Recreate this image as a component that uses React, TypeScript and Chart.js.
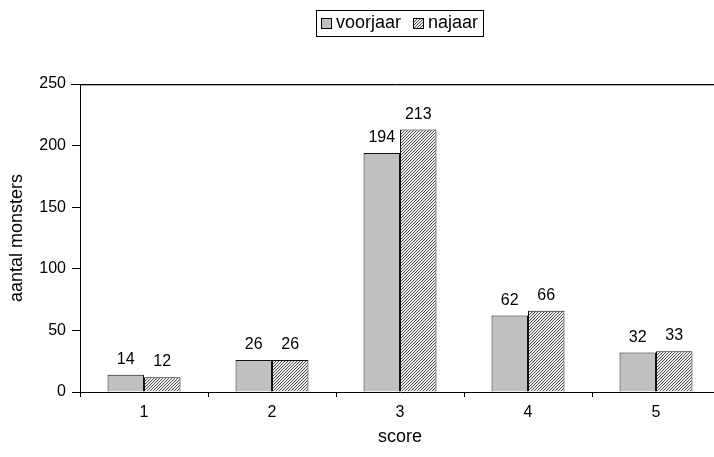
import React, { useEffect, useRef } from "react";
import { Chart, registerables } from "chart.js";

Chart.register(...registerables);

const categories = ["1", "2", "3", "4", "5"];
const seriesNames = ["voorjaar", "najaar"];
const voorjaar = [14, 26, 194, 62, 32];
const najaar = [12, 26, 213, 66, 33];
const yMin = 0;
const yMax = 250;
const yStep = 50;
const xTitle = "score";
const yTitle = "aantal monsters";

const FONT = '"Liberation Sans", Arial, sans-serif';

function makeHatch(): CanvasPattern | string {
  const c = document.createElement("canvas");
  c.width = 3;
  c.height = 3;
  const g = c.getContext("2d");
  if (!g) return "#999";
  const img = g.createImageData(3, 3);
  for (let y = 0; y < 3; y++) {
    for (let x = 0; x < 3; x++) {
      const i = (y * 3 + x) * 4;
      const k = (x + y) % 3;
      const v = k === 0 ? 80 : k === 1 ? 225 : 255;
      img.data[i] = v;
      img.data[i + 1] = v;
      img.data[i + 2] = v;
      img.data[i + 3] = 255;
    }
  }
  g.putImageData(img, 0, 0);
  return g.createPattern(c, "repeat") || "#999";
}

export default function App() {
  const ref = useRef<HTMLCanvasElement | null>(null);

  useEffect(() => {
    const canvas = ref.current;
    if (!canvas) return;
    const hatch = makeHatch();

    const decoPlugin = {
      id: "deco",
      afterDatasetsDraw(chart: any) {
        const ctx = chart.ctx;
        ctx.save();
        ctx.font = `16px ${FONT}`;
        ctx.fillStyle = "#000";
        ctx.textAlign = "center";
        ctx.textBaseline = "alphabetic";
        chart.data.datasets.forEach((ds: any, di: number) => {
          const meta = chart.getDatasetMeta(di);
          meta.data.forEach((bar: any, i: number) => {
            ctx.fillText(String(ds.data[i]), bar.x, bar.y - 11);
          });
        });
        ctx.restore();
      },
      afterDraw(chart: any) {
        const ctx = chart.ctx;
        const a = chart.chartArea;
        ctx.save();
        // plot area top border
        ctx.strokeStyle = "#000";
        ctx.lineWidth = 1;
        ctx.beginPath();
        ctx.moveTo(a.left - 9, a.top + 0.5);
        ctx.lineTo(a.right, a.top + 0.5);
        ctx.stroke();
        ctx.strokeStyle = "#b0b0b0";
        ctx.beginPath();
        ctx.moveTo(a.left + 1, a.top + 1.5);
        ctx.lineTo(a.right, a.top + 1.5);
        ctx.stroke();

        // legend
        ctx.font = `18px ${FONT}`;
        ctx.textBaseline = "middle";
        ctx.textAlign = "left";
        const box = 11;
        const gap = 4;
        const itemGap = 12;
        const pad = 5;
        const ds = chart.data.datasets;
        const widths = ds.map((d: any) => ctx.measureText(d.label).width);
        let total = pad * 2;
        widths.forEach((w: number, i: number) => {
          total += box + gap + w + (i > 0 ? itemGap : 0);
        });
        const cx = 400;
        const left = Math.round(cx - total / 2);
        const top = 10;
        const h = 26;
        ctx.fillStyle = "#fff";
        ctx.fillRect(left, top, total, h);
        ctx.strokeStyle = "#000";
        ctx.lineWidth = 1;
        ctx.strokeRect(left + 0.5, top + 0.5, Math.round(total), h);
        let x = left + pad;
        const cy = top + h / 2 + 0.5;
        ds.forEach((d: any, i: number) => {
          if (i > 0) x += itemGap;
          const bx = Math.round(x);
          const by = Math.round(cy - box / 2);
          ctx.fillStyle = d.backgroundColor;
          ctx.fillRect(bx, by, box, box);
          ctx.strokeStyle = "#000";
          ctx.strokeRect(bx + 0.5, by + 0.5, box - 1, box - 1);
          x += box + gap;
          ctx.fillStyle = "#000";
          ctx.fillText(d.label, x, cy);
          x += widths[i];
        });
        ctx.restore();
      },
    };

    const chart = new Chart(canvas, {
      type: "bar",
      data: {
        labels: categories,
        datasets: [
          {
            label: seriesNames[0],
            data: voorjaar,
            backgroundColor: "#c0c0c0",
            borderColor: "#111",
            borderWidth: 1,
            categoryPercentage: 0.57,
            barPercentage: 1,
          },
          {
            label: seriesNames[1],
            data: najaar,
            backgroundColor: hatch as any,
            borderColor: "#111",
            borderWidth: 1,
            categoryPercentage: 0.57,
            barPercentage: 1,
          },
        ],
      },
      options: {
        animation: false,
        responsive: false,
        maintainAspectRatio: false,
        devicePixelRatio: 1,
        layout: { padding: { top: 84, left: 0, right: 20, bottom: 0 } },
        plugins: {
          legend: { display: false },
          tooltip: { enabled: false },
          title: { display: false },
        },
        scales: {
          x: {
            type: "category",
            offset: true,
            grid: {
              display: true,
              offset: true,
              drawOnChartArea: false,
              drawTicks: true,
              tickLength: 5,
              color: "#000",
              lineWidth: 1,
            },
            border: { display: true, color: "#000", width: 1 },
            ticks: {
              color: "#000",
              font: { family: FONT, size: 16 },
              padding: 6,
              maxRotation: 0,
            },
            title: {
              display: true,
              text: xTitle,
              color: "#000",
              font: { family: FONT, size: 18 },
              padding: { top: 0, bottom: 9 },
            },
            afterFit(scale: any) {
              scale.height = 65;
            },
          },
          y: {
            min: yMin,
            max: yMax,
            ticks: {
              stepSize: yStep,
              color: "#000",
              font: { family: FONT, size: 16 },
              padding: 6,
            },
            grid: {
              display: true,
              drawOnChartArea: false,
              drawTicks: true,
              tickLength: 8,
              color: "#000",
              lineWidth: 1,
            },
            border: { display: true, color: "#000", width: 1 },
            title: {
              display: true,
              text: yTitle,
              color: "#000",
              font: { family: FONT, size: 18 },
              padding: { top: 6, bottom: 0 },
            },
            afterFit(scale: any) {
              scale.width = 80;
            },
          },
        },
      },
      plugins: [decoPlugin],
    });

    return () => {
      chart.destroy();
    };
  }, []);

  return (
    <div
      style={{
        position: "fixed",
        left: 0,
        top: 0,
        width: 714,
        height: 457,
        overflow: "hidden",
        background: "#fff",
      }}
    >
      <canvas ref={ref} width={740} height={457} style={{ display: "block" }} />
    </div>
  );
}
